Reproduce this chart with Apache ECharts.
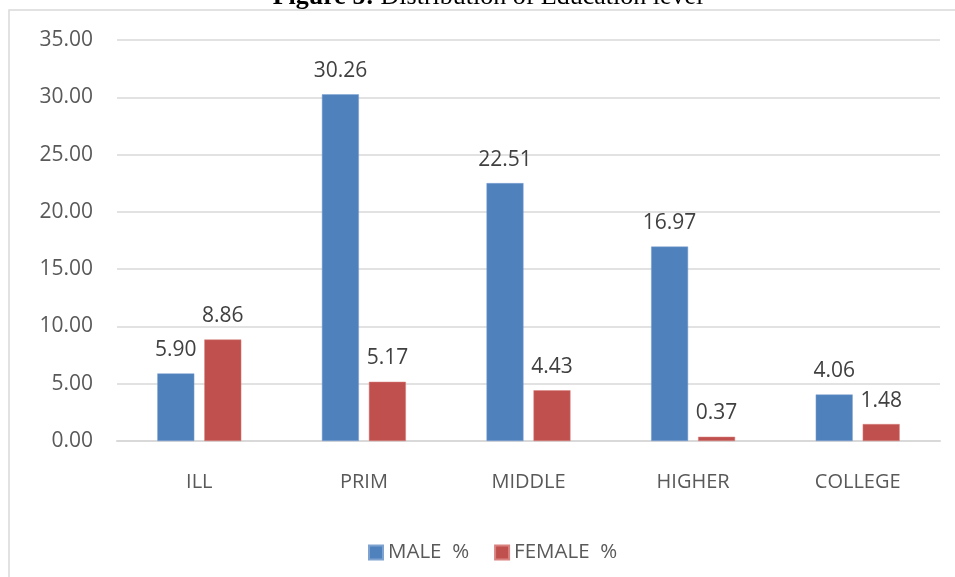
<!DOCTYPE html>
<html>
<head>
<meta charset="utf-8">
<script src="https://cdn.jsdelivr.net/npm/echarts@6/dist/echarts.min.js"></script>
<style>
  html, body { margin: 0; padding: 0; background: #fff; }
  #chart { width: 955px; height: 577px; }
</style>
</head>
<body>
<div id="chart"></div>
<script>
// Education level distribution by sex (%)
const categories = ['ILL', 'PRIM', 'MIDDLE', 'HIGHER', 'COLLEGE'];
const maleValues = [5.90, 30.26, 22.51, 16.97, 4.06];
const femaleValues = [8.86, 5.17, 4.43, 0.37, 1.48];
const seriesNames = ['MALE  %', 'FEMALE  %'];

const chart = echarts.init(document.getElementById('chart'));
const font = '"Open Sans", "Noto Sans", sans-serif';
const labelStyle = {
  show: true,
  position: 'top',
  distance: 13,
  color: '#404040',
  fontFamily: font,
  fontSize: 21,
  formatter: p => p.value.toFixed(2)
};

chart.setOption({
  animation: false,
  graphic: [
    {
      type: 'rect',
      shape: { x: 9, y: 10, width: 960, height: 580 },
      style: { fill: 'none', stroke: '#d9d9d9', lineWidth: 1.5 },
      silent: true
    },
    {
      type: 'text',
      x: 488,
      y: -16,
      style: {
        text: '{b|Figure 5:} Distribution of Education level',
        align: 'center',
        fontFamily: '"Liberation Serif", "Times New Roman", serif',
        fontSize: 26,
        fill: '#000',
        rich: {
          b: { fontWeight: 'bold', fontFamily: '"Liberation Serif", serif', fontSize: 26 }
        }
      }
    }
  ],
  grid: { left: 117, right: 15, top: 40, bottom: 136 },
  legend: {
    top: 537,
    left: 363,
    itemWidth: 14,
    itemHeight: 14,
    itemGap: 25,
    icon: 'rect',
    textStyle: { color: '#595959', fontFamily: font, fontSize: 20.5 },
    data: seriesNames
  },
  xAxis: {
    type: 'category',
    data: categories,
    axisLine: { lineStyle: { color: '#d9d9d9', width: 2 } },
    axisTick: { show: false },
    axisLabel: { color: '#595959', fontFamily: font, fontSize: 20, margin: 31 }
  },
  yAxis: {
    type: 'value',
    min: 0,
    max: 35,
    interval: 5,
    axisLine: { show: false },
    axisTick: { show: false },
    splitLine: { lineStyle: { color: '#d9d9d9', width: 1.5 } },
    axisLabel: {
      color: '#595959',
      fontFamily: font,
      fontSize: 21,
      margin: 24,
      formatter: v => v.toFixed(2)
    }
  },
  series: [
    {
      name: seriesNames[0],
      type: 'bar',
      data: maleValues,
      barWidth: 37,
      barGap: '27%',
      itemStyle: { color: '#4F81BD', borderColor: '#7FA3D0', borderWidth: 0.5 },
      label: labelStyle
    },
    {
      name: seriesNames[1],
      type: 'bar',
      data: femaleValues,
      barWidth: 37,
      itemStyle: { color: '#C0504D', borderColor: '#D98280', borderWidth: 0.5 },
      label: labelStyle
    }
  ]
});
</script>
</body>
</html>
